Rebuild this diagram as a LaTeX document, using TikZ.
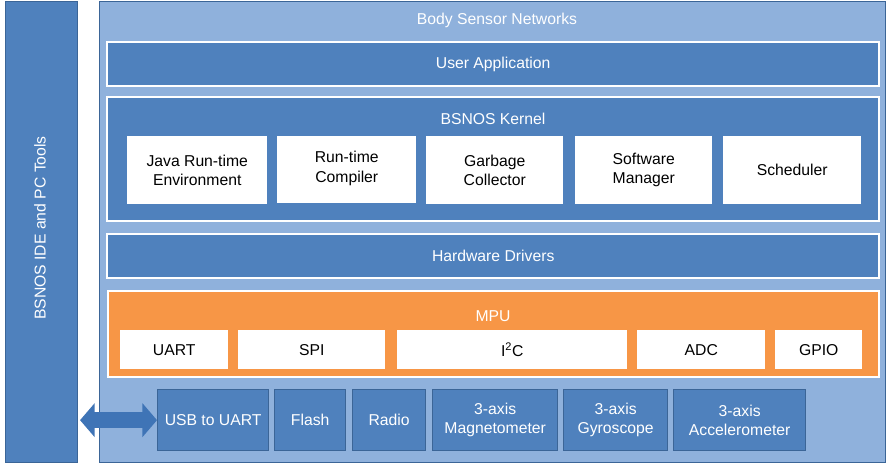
\documentclass[tikz,border=0pt]{standalone}
\usepackage{fontspec}
\setmainfont{Liberation Sans}
\usetikzlibrary{arrows.meta}
\definecolor{bsnblue}{HTML}{4F81BD}
\definecolor{bsnlight}{HTML}{8FB1DC}
\definecolor{bsnedge}{HTML}{3B6597}
\definecolor{bsnorange}{HTML}{F79646}
\definecolor{bsnarrow}{HTML}{3F74B6}
\begin{document}
\begin{tikzpicture}[x=0.75pt,y=-0.75pt,
  font=\fontsize{11.8pt}{14.5pt}\selectfont,
  sz/.style 2 args={minimum width=#1*0.75pt, minimum height=#2*0.75pt, inner sep=0pt, anchor=north west},
  panel/.style={fill=bsnblue, draw=bsnedge, line width=0.8pt},
  bar/.style={fill=bsnblue, draw=white, line width=1.8pt, text=white},
  whitebox/.style={fill=white, draw=none, text=black, align=center},
  hwbox/.style={fill=bsnblue, draw=bsnedge, line width=1pt, text=white, align=center},
  lbl/.style={text=white, inner sep=0pt}
]
\useasboundingbox (0,0) rectangle (888,464);
\fill[white] (0,0) rectangle (888,464);

% left panel
\node[panel, sz={72}{461}] (ide) at (5,1) {};
\node[lbl, rotate=90] (idet) at (40,228) {BSNOS IDE and PC Tools};

% main panel
\node[fill=bsnlight, draw=bsnedge, line width=0.8pt, sz={786}{461}] (main) at (99,1) {};
\node[lbl] (maint) at (497,20) {Body Sensor Networks};

% user application
\node[bar, sz={772}{44}] (ua) at (106,41) {User Application};

% kernel
\node[bar, sz={772}{124}] (kern) at (106,96) {};
\node[lbl] (kernt) at (493,119) {BSNOS Kernel};
\node[whitebox, sz={140}{68}] (jre) at (127,136) {\raisebox{-1.5pt}{\parbox{30mm}{\centering Java Run-time\\Environment}}};
\node[whitebox, sz={139}{67}] (rtc) at (277,136) {};
\node[text=black, align=center, inner sep=0pt] (rtct) at ([yshift=1pt]rtc.center) {Run-time\\Compiler};
\node[whitebox, sz={137}{68}] (gc) at (426,136) {\raisebox{-1.5pt}{\parbox{30mm}{\centering Garbage\\Collector}}};
\node[whitebox, sz={137}{68}] (sm) at (575,136) {\raisebox{-1.5pt}{\parbox{30mm}{\centering Software\\Manager}}};
\node[whitebox, sz={138}{68}] (sch) at (723,136) {\raisebox{-1.5pt}{Scheduler}};

% hardware drivers
\node[bar, sz={772}{44}] (hd) at (106,233) {Hardware Drivers};

% MPU
\node[fill=bsnorange, draw=white, line width=1.8pt, sz={771}{86}] (mpu) at (107,290) {};
\node[lbl] (mput) at (493,316) {MPU};
\node[whitebox, sz={108}{39}] (uart) at (120,330) {UART};
\node[whitebox, sz={147}{39}] (spi) at (238,330) {\raisebox{-1.5pt}{SPI}};
\node[whitebox, sz={230}{39}] (i2c) at (397,330) {\raisebox{-1.5pt}{I\textsuperscript{2}C}};
\node[whitebox, sz={128}{39}] (adc) at (637,330) {ADC};
\node[whitebox, sz={87}{39}] (gpio) at (775,330) {GPIO};

% hardware components
\node[hwbox, sz={111}{61}] (usb) at (157,389) {USB to UART};
\node[hwbox, sz={71}{61}] (flash) at (274,389) {\raisebox{1pt}{Flash}};
\node[hwbox, sz={73}{61}] (radio) at (352,389) {Radio};
\node[hwbox, sz={125}{61}] (mag) at (432,389) {3-axis\\Magnetometer};
\node[hwbox, sz={104}{61}] (gyro) at (563,389) {3-axis\\Gyroscope};
\node[hwbox, sz={132}{61}] (acc) at (673,389) {3-axis\\Accelerometer};

% double arrow
\draw[bsnarrow, line width=12pt, {Triangle[length=11pt,width=25pt]}-{Triangle[length=11pt,width=25pt]}, shorten <=1.5pt]
  (ide.east |- usb.west) -- (usb.west);
\end{tikzpicture}
\end{document}
